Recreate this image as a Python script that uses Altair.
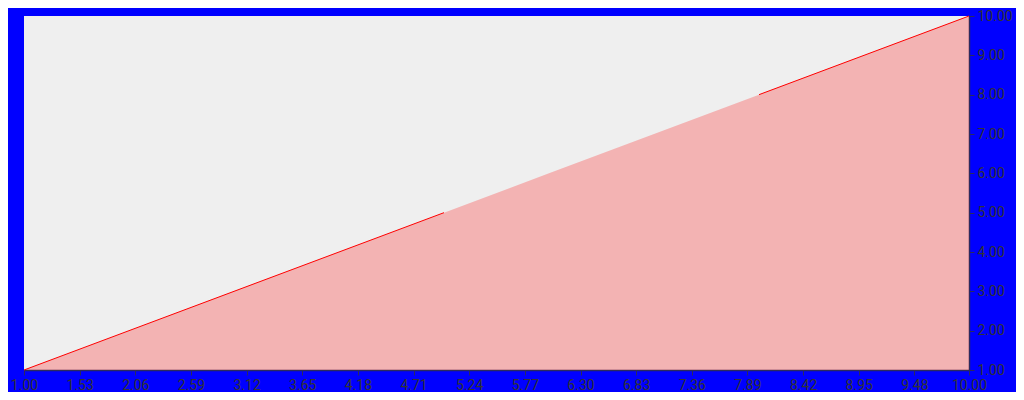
import altair as alt
import pandas as pd

xs = [1, 2, 3, 4, 5, 6, 7, 8, 9, 10]
ys = [1, 2, 3, 4, 5, 6, 7, 8, 9, 10]
line_x = [1, 2, 3, 4, 5, 8, 9, 10]
line_y = [1, 2, 3, 4, 5, 8, 9, 10]
line_seg = ["a", "a", "a", "a", "a", "b", "b", "b"]
x_ticks = [1.00, 1.53, 2.06, 2.59, 3.12, 3.65, 4.18, 4.71, 5.24, 5.77,
           6.30, 6.83, 7.36, 7.89, 8.42, 8.95, 9.48, 10.00]
y_ticks = [1, 2, 3, 4, 5, 6, 7, 8, 9, 10]

area_df = pd.DataFrame({"x": xs, "y": ys})
line_df = pd.DataFrame({"x": line_x, "y": line_y, "seg": line_seg})

xscale = alt.Scale(domain=[1, 10], nice=False, zero=False)
yscale = alt.Scale(domain=[1, 10], nice=False, zero=False)

common = dict(format=".2f", title=None, grid=False, labelOverlap=False,
              labelFont="Roboto", labelFontSize=14, labelColor="#333333",
              domainColor="#2b2b5e", tickColor="#2b2b5e", tickSize=5,
              domainWidth=1.5, labelPadding=3, labelBound=False, labelFlush=False)
xaxis = alt.Axis(values=x_ticks, **common)
yaxis = alt.Axis(values=y_ticks, orient="right", labelBaseline="middle", **common)

area = alt.Chart(area_df).mark_area(color="red", opacity=0.25, clip=True).encode(
    x=alt.X("x:Q", scale=xscale, axis=xaxis),
    y=alt.Y("y:Q", scale=yscale, axis=yaxis),
)

line = alt.Chart(line_df).mark_line(color="red", strokeWidth=1).encode(
    x=alt.X("x:Q", scale=xscale, axis=xaxis),
    y=alt.Y("y:Q", scale=yscale, axis=yaxis),
    detail="seg:N",
)

chart = alt.layer(area, line).properties(
    width=945, height=354,
    background="blue",
    padding={"left": 16, "top": 8, "right": 47, "bottom": 22},
    autosize=alt.AutoSizeParams(type="none"),
).configure_view(fill="#efefef", stroke=None).configure_axis(labelOverlap=False)

chart.save("out.html", embed_options={"renderer": "svg", "actions": False})
